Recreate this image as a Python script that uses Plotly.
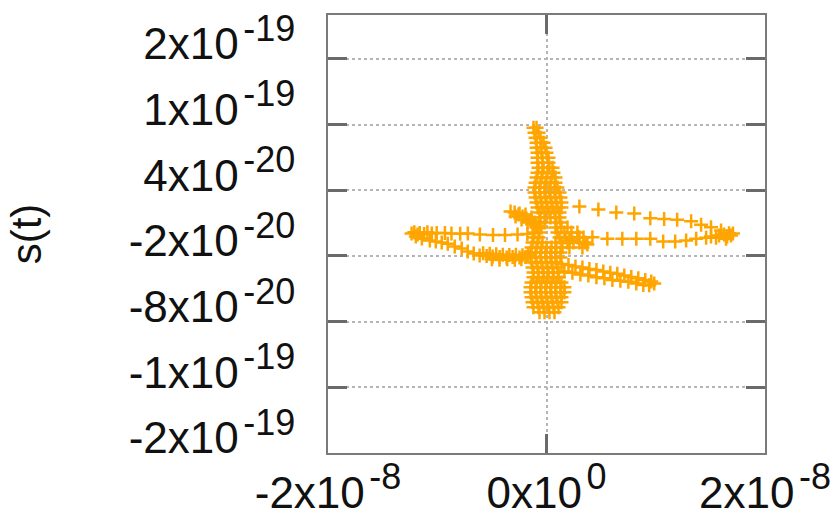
import plotly.graph_objects as go

# Units used in the arrays below
X_UNIT = 1e-9
Y_UNIT = 1e-21

# Left horizontal arm, upper row
LEFT_UPPER_X = [-12.35, -12.1, -11.8, -11.6, -11.2, -10.9, -10.5, -10.05, -9.3, -8.7, -7.9, -7.2, -6.1, -4.9, -3.8, -2.65, -1.75]
LEFT_UPPER_Y = [0.5, 1.5, -0.5, 1.0, 0.0, 1.5, 0.5, 1.0, 0.8, 0.5, 0.3, 0.5, -0.5, -0.8, -1.0, -0.5, 0.0]

# Left horizontal arm, lower branch
LEFT_LOWER_X = [-11.96, -11.41, -10.68, -10.13, -9.59, -9.04, -8.40, -7.76, -7.21, -6.66, -6.12, -5.48, -4.93, -4.29,
                -3.65, -3.10, -2.47, -1.92, -5.8, -5.2, -4.6, -4.0, -3.4, -2.8, -2.2, -1.7, -5.0, -4.3, -3.6, -2.9, -2.3]
LEFT_LOWER_Y = [-2.3, -4.1, -5.9, -6.8, -7.7, -8.9, -11.4, -13.2, -15.9, -17.8, -19.6, -20.0, -20.5, -21.0,
                -21.4, -21.0, -21.4, -21.0, -17.5, -18.0, -18.5, -19.0, -19.2, -19.0, -19.5, -19.0, -23.0, -23.5, -23.0, -23.5, -23.0]

# Short upper-left arm
SHORT_ARM_X = [-3.29, -2.92, -2.56, -2.19, -1.83, -1.46, -1.10, -2.83, -2.28, -1.73, -1.28, -0.82, -2.47, -1.92, -1.37]
SHORT_ARM_Y = [20.5, 19.6, 17.8, 15.9, 14.1, 12.3, 10.5, 15.9, 13.2, 10.5, 8.7, 6.8, 18.7, 17.8, 15.0]

# Right loop (out along the upper row, back along the lower row)
RIGHT_LOOP_X = [3.01, 4.75, 6.39, 8.03, 9.50, 10.77, 11.96, 13.24, 14.15, 15.06, 15.98, 16.71, 16.89, 16.53, 17.07, 16.25,
                16.43, 15.52, 14.61, 13.70, 12.78, 11.78, 10.68, 9.50, 8.22, 6.94, 5.57, 4.20, 3.01, 2.10, 15.79, 15.06, 3.74, 3.29]
RIGHT_LOOP_Y = [25.1, 22.3, 19.6, 18.7, 14.4, 13.8, 12.9, 11.7, 8.4, 6.2, 3.2, 0.7, -1.4, -2.3, 0.5, -0.5,
                -4.4, -3.5, -3.5, -4.4, -5.9, -6.8, -6.8, -4.4, -4.4, -4.4, -4.4, -2.9, -2.9, -5.9, -1.4, -2.3, -9.6, -12.3]

# Lower right arm
LOWER_RIGHT_X = [1.37, 2.01, 2.65, 3.29, 3.93, 4.57, 5.20, 5.84, 6.48, 7.12, 7.76, 8.40, 9.04, 9.59, 9.86,
                 1.64, 2.37, 3.10, 3.83, 4.57, 5.30, 6.03, 6.76, 7.49, 8.22, 8.86, 9.40]
LOWER_RIGHT_Y = [-27.3, -28.2, -29.6, -30.5, -31.9, -32.8, -34.2, -35.5, -36.4, -37.8, -39.2, -40.5, -41.9, -43.3, -45.1,
                 -34.2, -35.5, -36.9, -37.8, -39.6, -40.5, -41.9, -42.8, -43.7, -45.1, -46.5, -46.9]

# Central vertical cluster, read row by row
CORE_ROW_Y = [97.0, 92.5, 87.9, 83.4, 78.8, 74.3, 69.7, 65.1, 60.6, 56.0, 51.5, 46.9, 42.4, 37.8, 33.3, 28.7, 24.1,
              19.6, 15.0, 10.5, 5.9, 1.4, -3.2, -7.7, -12.3, -16.9, -21.4, -26.0, -30.5, -35.1, -39.6, -44.2,
              -48.7, -53.3, -57.8, -62.4, -67.0, -71.5]
CORE_ROW_X = [
    [-1.19, -0.91],
    [-1.10, -0.73],
    [-1.00, -0.55],
    [-0.91, -0.46, -0.27],
    [-0.91, -0.55, -0.09],
    [-0.82, -0.46, 0.00],
    [-0.82, -0.37, 0.18],
    [-0.82, -0.37, 0.18],
    [-0.73, -0.27, 0.27, 0.55],
    [-0.82, -0.37, 0.09, 0.64],
    [-0.91, -0.46, 0.00, 0.46, 0.82],
    [-1.00, -0.55, -0.09, 0.37, 0.82],
    [-1.10, -0.64, -0.18, 0.27, 0.73, 1.00],
    [-1.10, -0.64, -0.18, 0.27, 0.73, 1.19],
    [-1.00, -0.55, -0.09, 0.37, 0.82, 1.28],
    [-0.91, -0.46, 0.00, 0.46, 0.91, 1.37],
    [-0.82, -0.37, 0.09, 0.55, 1.00, 1.37],
    [-0.64, -0.18, 0.27, 0.73, 1.19],
    [-0.55, -0.09, 0.37, 0.82, 1.19],
    [-0.64, -0.18, 0.91, 1.28],
    [-0.91, -0.46, 0.82, 1.37, 1.92],
    [-1.10, -0.64, 1.00, 1.64, 2.28, 2.83],
    [-1.19, -0.73, 1.19, 1.73, 2.28, 2.83, 3.38],
    [-1.28, -0.82, -0.37, 0.82, 1.37, 1.92, 2.47, 3.01, 3.56],
    [-1.37, -0.91, -0.46, 0.00, 0.46, 0.91, 1.46, 2.10],
    [-1.46, -1.00, -0.55, -0.09, 0.37, 0.82, 1.28],
    [-1.46, -1.00, -0.55, -0.09, 0.37, 0.82, 1.28],
    [-1.37, -0.91, -0.46, 0.00, 0.46, 0.91],
    [-1.28, -0.82, -0.37, 0.09, 0.55, 1.00],
    [-1.19, -0.73, -0.27, 0.18, 0.64, 1.10],
    [-1.19, -0.73, -0.27, 0.18, 0.64, 1.10],
    [-1.37, -0.91, -0.46, 0.00, 0.46, 0.91, 1.37],
    [-1.46, -1.00, -0.55, -0.09, 0.37, 0.82, 1.28, 1.64],
    [-1.46, -1.00, -0.55, -0.09, 0.37, 0.82, 1.28, 1.64],
    [-1.37, -0.91, -0.46, 0.00, 0.46, 0.91, 1.37],
    [-1.28, -0.82, -0.37, 0.09, 0.55, 1.00, 1.37],
    [-1.19, -0.73, -0.27, 0.18, 0.64, 1.10],
    [-0.64, -0.18, 0.27, 0.73],
]

# Axis ticks
SUP = "<span style='font-size:16px'>&nbsp;</span><sup><span style='font-size:36px'>{}</span></sup>"
X_TICKS = [-2e-8, 0.0, 2e-8]
X_TICK_TEXT = ["-2x10" + SUP.format("-8"), "0x10" + SUP.format("0"), "2x10" + SUP.format("-8")]
Y_TICKS = [-2e-19, -1.4e-19, -8e-20, -2e-20, 4e-20, 1e-19, 1.6e-19]
Y_TICK_TEXT = ["-2x10" + SUP.format("-19"), "-1x10" + SUP.format("-19"), "-8x10" + SUP.format("-20"),
               "-2x10" + SUP.format("-20"), "4x10" + SUP.format("-20"), "1x10" + SUP.format("-19"),
               "2x10" + SUP.format("-19")]

xs, ys = [], []
for gx, gy in [(LEFT_UPPER_X, LEFT_UPPER_Y), (LEFT_LOWER_X, LEFT_LOWER_Y), (SHORT_ARM_X, SHORT_ARM_Y),
               (RIGHT_LOOP_X, RIGHT_LOOP_Y), (LOWER_RIGHT_X, LOWER_RIGHT_Y)]:
    xs += [v * X_UNIT for v in gx]
    ys += [v * Y_UNIT for v in gy]
for yv, row in zip(CORE_ROW_Y, CORE_ROW_X):
    for xv in row:
        xs.append(xv * X_UNIT)
        ys.append(yv * Y_UNIT)

FONT = "Liberation Sans, Arial, Helvetica, sans-serif"
TXT = "#111111"

fig = go.Figure()
fig.add_trace(go.Scatter(
    x=xs, y=ys, mode="markers",
    marker=dict(symbol="cross-thin-open", size=10, color="#FFA500",
                line=dict(color="#FFA500", width=2.5)),
    showlegend=False, hoverinfo="skip",
))

axis_common = dict(
    showline=True, linecolor="#7a7a7a", linewidth=2, mirror="ticks",
    ticks="inside", ticklen=19, tickwidth=2.5, tickcolor="#6a6a6a",
    showgrid=True, gridcolor="#b5b5b5", griddash="dot", gridwidth=1.5,
    zeroline=False, automargin=False,
    tickfont=dict(family=FONT, size=44, color=TXT),
)

fig.update_layout(
    width=834, height=513,
    margin=dict(l=328, r=69, t=15, b=60),
    paper_bgcolor="white", plot_bgcolor="white",
    font=dict(family=FONT, color=TXT),
    xaxis=dict(range=[-2e-8, 2e-8], tickvals=X_TICKS, ticktext=X_TICK_TEXT,
               ticklabelstandoff=0, **axis_common),
    yaxis=dict(range=[-2e-19, 2e-19], tickvals=Y_TICKS, ticktext=Y_TICK_TEXT,
               ticklabelstandoff=22, ticklabelshift=-15,
               title=dict(text="s(t)", font=dict(family=FONT, size=42, color=TXT), standoff=74),
               **axis_common),
)

fig.write_html("out.html", config={"displayModeBar": False},
               post_script="document.body.style.margin='0px';document.body.style.padding='0px';")
